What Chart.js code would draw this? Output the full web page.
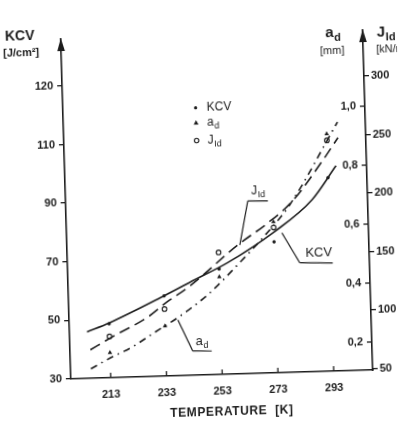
<!DOCTYPE html>
<html>
<head>
<meta charset="utf-8">
<script src="https://cdn.jsdelivr.net/npm/chart.js@4.4.0/dist/chart.umd.min.js"></script>
<style>
  html, body { margin: 0; padding: 0; background: #fff; overflow: hidden; }
  #wrap { width: 402px; height: 426px; position: relative; overflow: hidden; }
  #chart { display: block; transform: rotate(-1.7deg); transform-origin: 201px 213px; }
</style>
</head>
<body>
<div id="wrap"><canvas id="chart" width="402" height="426"></canvas></div>
<script>
// measured points
const temps = [213, 233, 253, 273, 293];
const kcvPoints = [48.4, 57.4, 66, 74.7, 96];
const adPoints = [0.19, 0.275, 0.436, 0.617, 0.91];
const jPoints = [84, 106, 153, 173, 246];

// fitted curves
const kcvCurveT = [205, 213, 233, 244, 256, 273, 287, 296];
const kcvCurve = [45.9, 48.7, 57.4, 62.5, 68, 78, 88.6, 100];
const jCurveT = [206, 214, 227, 234, 242, 260, 271, 280, 291, 297];
const jCurve = [73, 83.6, 99.7, 112, 124.4, 159, 177, 195, 228, 248];
const adCurveT = [206, 213, 221, 229, 238, 249, 260, 270, 279, 297];
const adCurve = [0.137, 0.172, 0.207, 0.253, 0.304, 0.379, 0.478, 0.574, 0.673, 0.949];

// axes
const tempTicks = [213, 233, 253, 273, 293];
const kcvTickValues = [30, 50, 70, 90, 110, 130];
const kcvTickLabels = ['30', '50', '70', '90', '110', '120'];
const adTickValues = [0.2, 0.4, 0.6, 0.8, 1.0];
const adTickLabels = ['0,2', '0,4', '0,6', '0,8', '1,0'];
const jTickValues = [50, 100, 150, 200, 250, 300];
const jTickLabels = ['50', '100', '150', '200', '250', '300'];

const ink = '#1c1c1c';
const fam = '"Liberation Sans", Arial, sans-serif';
const tickFont = { family: fam, size: 11, weight: 'bold' };

const pts = (xs, ys) => xs.map((x, i) => ({ x, y: ys[i] }));
const fixedTicks = values => scale => { scale.ticks = values.map(v => ({ value: v })); };

function subText(ctx, main, sub, x, y, size, bold, align) {
    const w = bold ? 'bold ' : '';
    ctx.font = `${w}${size}px ${fam}`;
    const w1 = ctx.measureText(main).width;
    ctx.font = `${w}${Math.round(size * 0.72)}px ${fam}`;
    const w2 = ctx.measureText(sub).width;
    const x0 = align === 'center' ? x - (w1 + w2) / 2 : x;
    ctx.textAlign = 'left';
    ctx.textBaseline = 'middle';
    ctx.font = `${w}${size}px ${fam}`;
    ctx.fillText(main, x0, y);
    ctx.font = `${w}${Math.round(size * 0.72)}px ${fam}`;
    ctx.fillText(sub, x0 + w1 + 0.5, y + size * 0.32);
}

function seg(ctx, x1, y1, x2, y2) {
    ctx.beginPath();
    ctx.moveTo(x1, y1);
    ctx.lineTo(x2, y2);
    ctx.stroke();
}

const extras = {
    id: 'extras',
    afterDraw(chart) {
        const { ctx, chartArea: a, scales: { x, y, ad } } = chart;
        ctx.save();
        ctx.strokeStyle = ink;
        ctx.fillStyle = ink;
        ctx.lineWidth = 1.3;

        // inward ticks on temperature and a_d axes
        tempTicks.forEach(t => {
            const px = x.getPixelForValue(t);
            seg(ctx, px, a.bottom, px, a.bottom - 5);
        });
        adTickValues.forEach(v => {
            const py = ad.getPixelForValue(v);
            seg(ctx, a.right - 5, py, a.right, py);
        });

        // arrow heads
        [a.left, a.right].forEach(px => {
            ctx.beginPath();
            ctx.moveTo(px, a.top - 1);
            ctx.lineTo(px - 3.8, a.top + 12);
            ctx.lineTo(px + 3.8, a.top + 12);
            ctx.closePath();
            ctx.fill();
        });

        // axis titles
        ctx.textAlign = 'center';
        ctx.textBaseline = 'middle';
        ctx.font = `bold 14px ${fam}`;
        ctx.fillText('KCV', a.left - 41, a.top - 4);
        ctx.font = `bold 11px ${fam}`;
        ctx.fillText('[J/cm²]', a.left - 40, a.top + 13);

        subText(ctx, 'a', 'd', a.right - 30, a.top + 2, 15, true, 'center');
        ctx.font = `11px ${fam}`;
        ctx.textAlign = 'center';
        ctx.fillText('[mm]', a.right - 31, a.top + 20);

        subText(ctx, 'J', 'Id', a.right + 14, a.top + 3, 15, true, 'left');
        ctx.font = `11px ${fam}`;
        ctx.textAlign = 'left';
        ctx.fillText('[kN/m]', a.right + 13, a.top + 20);

        ctx.font = `bold 12px ${fam}`;
        ctx.textAlign = 'center';
        if ('letterSpacing' in ctx) ctx.letterSpacing = '0.6px';
        ctx.fillText('TEMPERATURE  [K]', a.left + 160, a.bottom + 38);
        if ('letterSpacing' in ctx) ctx.letterSpacing = '0px';

        // symbol key inside the plot
        const kx = x.getPixelForValue(246.3);
        const rows = [y.getPixelForValue(121.2), y.getPixelForValue(116.1), y.getPixelForValue(110)];
        ctx.beginPath();
        ctx.arc(kx, rows[0], 1.6, 0, Math.PI * 2);
        ctx.fill();
        ctx.beginPath();
        ctx.moveTo(kx, rows[1] - 2.6);
        ctx.lineTo(kx - 2.4, rows[1] + 1.8);
        ctx.lineTo(kx + 2.4, rows[1] + 1.8);
        ctx.closePath();
        ctx.fill();
        ctx.lineWidth = 1.1;
        ctx.beginPath();
        ctx.arc(kx, rows[2], 2.2, 0, Math.PI * 2);
        ctx.stroke();
        ctx.font = `12px ${fam}`;
        ctx.textAlign = 'left';
        ctx.fillText('KCV', kx + 11, rows[0]);
        subText(ctx, 'a', 'd', kx + 11, rows[1], 12, false, 'left');
        subText(ctx, 'J', 'Id', kx + 11, rows[2], 12, false, 'left');

        // curve labels with leader lines
        ctx.lineWidth = 1.2;
        const P = (t, k) => [x.getPixelForValue(t), y.getPixelForValue(k)];
        let p1 = P(264, 88.9), p2 = P(271.2, 88.7), p3 = P(260.7, 74);
        seg(ctx, p1[0], p1[1], p2[0], p2[1]);
        seg(ctx, p1[0], p1[1], p3[0], p3[1]);
        let tp = P(267.7, 92.3);
        subText(ctx, 'J', 'Id', tp[0], tp[1], 12, false, 'center');

        p1 = P(282, 67.3); p2 = P(293.8, 66.9); p3 = P(275.9, 77.7);
        seg(ctx, p1[0], p1[1], p2[0], p2[1]);
        seg(ctx, p1[0], p1[1], p3[0], p3[1]);
        tp = P(288.9, 70.5);
        ctx.font = `13px ${fam}`;
        ctx.textAlign = 'center';
        ctx.fillText('KCV', tp[0], tp[1]);

        p1 = P(242.7, 38.3); p2 = P(249.5, 38.1); p3 = P(237.7, 49);
        seg(ctx, p1[0], p1[1], p2[0], p2[1]);
        seg(ctx, p1[0], p1[1], p3[0], p3[1]);
        tp = P(246, 41.6);
        subText(ctx, 'a', 'd', tp[0], tp[1], 13, false, 'center');

        ctx.restore();
    }
};

new Chart(document.getElementById('chart').getContext('2d'), {
    type: 'scatter',
    data: {
        datasets: [
            {
                label: 'KCV',
                data: pts(kcvCurveT, kcvCurve),
                yAxisID: 'y',
                showLine: true,
                pointRadius: 0,
                borderColor: ink,
                borderWidth: 1.6,
                cubicInterpolationMode: 'monotone'
            },
            {
                label: 'J Id',
                data: pts(jCurveT, jCurve),
                yAxisID: 'j',
                showLine: true,
                pointRadius: 0,
                borderColor: ink,
                borderWidth: 1.6,
                borderDash: [11, 6],
                cubicInterpolationMode: 'monotone'
            },
            {
                label: 'a d',
                data: pts(adCurveT, adCurve),
                yAxisID: 'ad',
                showLine: true,
                pointRadius: 0,
                borderColor: ink,
                borderWidth: 1.6,
                borderDash: [7, 5, 1.5, 5],
                cubicInterpolationMode: 'monotone'
            },
            {
                label: 'KCV points',
                data: pts(temps, kcvPoints),
                yAxisID: 'y',
                pointStyle: 'circle',
                pointRadius: 1.7,
                backgroundColor: ink,
                borderColor: ink,
                borderWidth: 0
            },
            {
                label: 'a d points',
                data: pts(temps, adPoints),
                yAxisID: 'ad',
                pointStyle: 'triangle',
                pointRadius: 2.6,
                backgroundColor: ink,
                borderColor: ink,
                borderWidth: 0
            },
            {
                label: 'J Id points',
                data: pts(temps, jPoints),
                yAxisID: 'j',
                pointStyle: 'circle',
                pointRadius: 2.3,
                backgroundColor: '#fff',
                borderColor: ink,
                borderWidth: 1.1
            }
        ]
    },
    options: {
        responsive: false,
        animation: false,
        layout: { padding: { top: 35, left: 0, right: 0, bottom: 0 } },
        plugins: {
            legend: { display: false },
            tooltip: { enabled: false }
        },
        scales: {
            x: {
                type: 'linear',
                min: 198.7,
                max: 307,
                afterBuildTicks: fixedTicks(tempTicks),
                grid: { drawOnChartArea: false, drawTicks: false },
                border: { display: true, color: ink, width: 1.6 },
                ticks: { color: ink, font: tickFont, padding: 10, callback: v => String(v) },
                afterFit: s => { s.height = 51; }
            },
            y: {
                position: 'left',
                min: 30,
                max: 146,
                afterBuildTicks: fixedTicks(kcvTickValues),
                grid: { drawOnChartArea: false, tickLength: 5, color: ink, lineWidth: 1.3 },
                border: { display: true, color: ink, width: 1.6 },
                ticks: { color: ink, font: tickFont, padding: 4, callback: (v, i) => kcvTickLabels[i] },
                afterFit: s => { s.width = 66; }
            },
            ad: {
                position: 'right',
                weight: 1,
                min: 0.105,
                max: 1.258,
                afterBuildTicks: fixedTicks(adTickValues),
                grid: { drawOnChartArea: false, drawTicks: false },
                border: { display: true, color: ink, width: 1.6 },
                ticks: { mirror: true, color: ink, font: tickFont, padding: -9, callback: (v, i) => adTickLabels[i] },
                afterFit: s => { s.width = 0; }
            },
            j: {
                position: 'right',
                weight: 2,
                min: 48.7,
                max: 339.3,
                afterBuildTicks: fixedTicks(jTickValues),
                grid: { drawOnChartArea: false, tickLength: 5, color: ink, lineWidth: 1.3 },
                border: { display: false },
                ticks: { color: ink, font: tickFont, padding: 2, callback: (v, i) => jTickLabels[i] },
                afterFit: s => { s.width = 34; }
            }
        }
    },
    plugins: [extras]
});
</script>
</body>
</html>
